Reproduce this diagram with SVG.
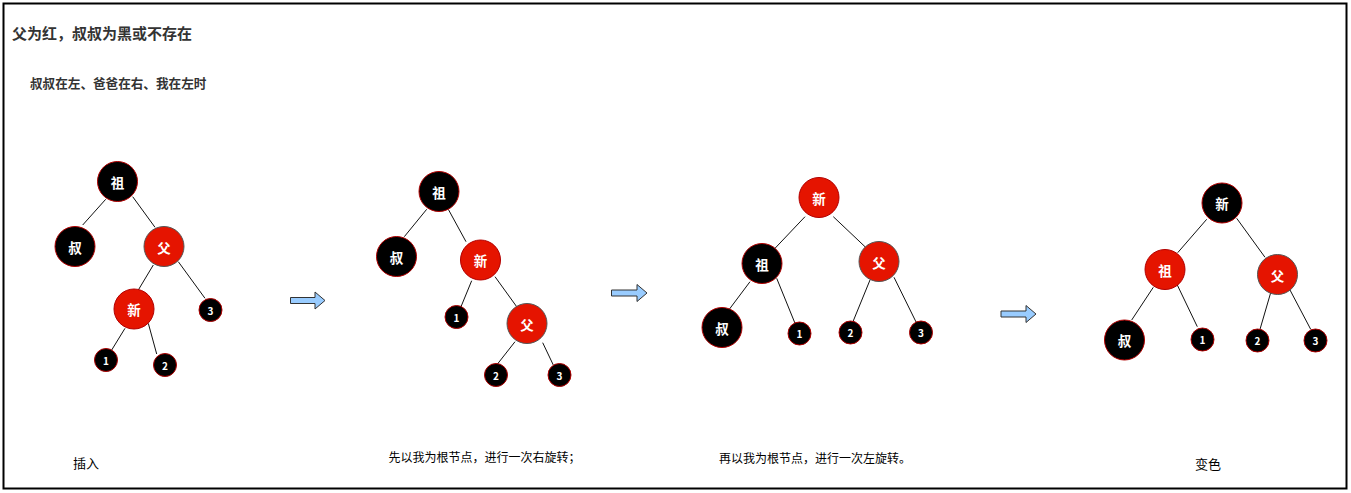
<svg xmlns="http://www.w3.org/2000/svg" width="1351" height="493" viewBox="0 0 1351 493">
<style>
.t{font-family:"Noto Sans CJK SC","Liberation Sans",sans-serif;}
.hd{font-size:15px;font-weight:bold;fill:#333;}
.sub{font-size:12.6px;font-weight:bold;fill:#333;}
.cap{font-size:12px;fill:#000;}
.blk{fill:#000;stroke:#b20000;stroke-width:1;}
.red{fill:#e51400;stroke:#b20000;stroke-width:1;}
.redg{fill:#e51400;stroke:#555;stroke-width:1;}
.nl{font-size:13.5px;font-weight:bold;fill:#fff;text-anchor:middle;dominant-baseline:central;}
.ns{font-size:10px;font-weight:bold;fill:#fff;text-anchor:middle;dominant-baseline:central;}
.e line{stroke:#111;stroke-width:1;}
.arr{fill:#99ccff;stroke:#333;stroke-width:1;}
</style>
<rect x="0" y="0" width="1351" height="493" fill="#fff"/>
<rect x="3.5" y="3.5" width="1343" height="485" fill="none" stroke="#000" stroke-width="2"/>
<text class="t hd" x="12" y="39">父为红，叔叔为黑或不存在</text>
<text class="t sub" x="30" y="88">叔叔在左、爸爸在右、我在左时</text>

<g id="connectors" class="e">
<line x1="105.7" y1="199.3" x2="82.7" y2="225"/>
<line x1="132.7" y1="196.7" x2="155" y2="227.3"/>
<line x1="153.3" y1="265" x2="138.3" y2="290"/>
<line x1="178.3" y1="261.7" x2="205" y2="298.3"/>
<line x1="125" y1="328.3" x2="111.7" y2="350"/>
<line x1="148.3" y1="323.3" x2="156.7" y2="354"/>

<line x1="426.7" y1="209.3" x2="404.3" y2="236.7"/>
<line x1="448.3" y1="209.3" x2="466" y2="241.7"/>
<line x1="471.7" y1="280.7" x2="461" y2="306.7"/>
<line x1="495" y1="276.7" x2="516.7" y2="306.7"/>
<line x1="515" y1="341.7" x2="496.7" y2="365"/>
<line x1="542.7" y1="342.7" x2="553.3" y2="365"/>

<line x1="805" y1="216.7" x2="775" y2="248.3"/>
<line x1="833.3" y1="216.7" x2="865" y2="246.7"/>
<line x1="750" y1="281.7" x2="729.3" y2="309.3"/>
<line x1="776.7" y1="278.3" x2="795" y2="323.3"/>
<line x1="870" y1="280" x2="852.3" y2="323.3"/>
<line x1="894" y1="277.3" x2="916.7" y2="323.3"/>

<line x1="1206.7" y1="219.3" x2="1177.7" y2="252.7"/>
<line x1="1236.7" y1="218.3" x2="1265" y2="257.3"/>
<line x1="1153.3" y1="287.3" x2="1131.7" y2="320"/>
<line x1="1177.3" y1="285" x2="1197.3" y2="326.7"/>
<line x1="1270.7" y1="292.7" x2="1260" y2="329.3"/>
<line x1="1290" y1="290" x2="1310.7" y2="329.3"/>
</g>

<g id="tree1">
<g id="t1-zu"><circle class="blk" cx="117.5" cy="181.5" r="20"/><text class="t nl" x="117.5" y="181.5">祖</text></g>
<g id="t1-shu"><circle class="blk" cx="75" cy="246.5" r="20"/><text class="t nl" x="75" y="246.5">叔</text></g>
<g id="t1-fu"><circle class="redg" cx="164" cy="246.5" r="20"/><text class="t nl" x="164" y="246.5">父</text></g>
<g id="t1-xin"><circle class="red" cx="134" cy="309" r="20"/><text class="t nl" x="134" y="309">新</text></g>
<g id="t1-3"><circle class="blk" cx="210.5" cy="310" r="11.5"/><text class="t ns" x="210.5" y="310">3</text></g>
<g id="t1-1"><circle class="blk" cx="106" cy="360" r="11.5"/><text class="t ns" x="106" y="360">1</text></g>
<g id="t1-2"><circle class="blk" cx="165" cy="365" r="11.5"/><text class="t ns" x="165" y="365">2</text></g>
</g>

<g id="tree2">
<g id="t2-zu"><circle class="blk" cx="439" cy="191.5" r="20"/><text class="t nl" x="439" y="191.5">祖</text></g>
<g id="t2-shu"><circle class="blk" cx="396.5" cy="256.5" r="20"/><text class="t nl" x="396.5" y="256.5">叔</text></g>
<g id="t2-xin"><circle class="red" cx="480.5" cy="260" r="20"/><text class="t nl" x="480.5" y="260">新</text></g>
<g id="t2-1"><circle class="blk" cx="456.5" cy="317" r="11.5"/><text class="t ns" x="456.5" y="317">1</text></g>
<g id="t2-fu"><circle class="redg" cx="527" cy="323.5" r="20"/><text class="t nl" x="527" y="323.5">父</text></g>
<g id="t2-2"><circle class="blk" cx="496" cy="375" r="11.5"/><text class="t ns" x="496" y="375">2</text></g>
<g id="t2-3"><circle class="blk" cx="559.5" cy="375" r="11.5"/><text class="t ns" x="559.5" y="375">3</text></g>
</g>

<g id="tree3">
<g id="t3-xin"><circle class="red" cx="819" cy="197.5" r="20"/><text class="t nl" x="819" y="197.5">新</text></g>
<g id="t3-zu"><circle class="blk" cx="762" cy="263.5" r="20"/><text class="t nl" x="762" y="263.5">祖</text></g>
<g id="t3-fu"><circle class="redg" cx="879" cy="261.5" r="20"/><text class="t nl" x="879" y="261.5">父</text></g>
<g id="t3-shu"><circle class="blk" cx="722" cy="327.5" r="20"/><text class="t nl" x="722" y="327.5">叔</text></g>
<g id="t3-1"><circle class="blk" cx="799.5" cy="333.5" r="11.5"/><text class="t ns" x="799.5" y="333.5">1</text></g>
<g id="t3-2"><circle class="blk" cx="850.5" cy="332.5" r="11.5"/><text class="t ns" x="850.5" y="332.5">2</text></g>
<g id="t3-3"><circle class="blk" cx="921" cy="332.5" r="11.5"/><text class="t ns" x="921" y="332.5">3</text></g>
</g>

<g id="tree4">
<g id="t4-xin"><circle class="blk" cx="1222" cy="203" r="20"/><text class="t nl" x="1222" y="203">新</text></g>
<g id="t4-zu"><circle class="red" cx="1165" cy="269.5" r="20"/><text class="t nl" x="1165" y="269.5">祖</text></g>
<g id="t4-fu"><circle class="redg" cx="1277.5" cy="274.5" r="20"/><text class="t nl" x="1277.5" y="274.5">父</text></g>
<g id="t4-shu"><circle class="blk" cx="1124.5" cy="340" r="20"/><text class="t nl" x="1124.5" y="340">叔</text></g>
<g id="t4-1"><circle class="blk" cx="1202.5" cy="339.5" r="11.5"/><text class="t ns" x="1202.5" y="339.5">1</text></g>
<g id="t4-2"><circle class="blk" cx="1257.5" cy="340.5" r="11.5"/><text class="t ns" x="1257.5" y="340.5">2</text></g>
<g id="t4-3"><circle class="blk" cx="1315.5" cy="340.5" r="11.5"/><text class="t ns" x="1315.5" y="340.5">3</text></g>
</g>

<g id="arrows">
<path class="arr" d="M290.5,297.5 L315,297.5 L315,292 L325,300.5 L315,309 L315,303.5 L290.5,303.5 Z"/>
<path class="arr" d="M611.5,290 L637,290 L637,284.5 L647,293 L637,301.5 L637,296 L611.5,296 Z"/>
<path class="arr" d="M1001,311 L1026,311 L1026,305.5 L1036,314 L1026,322.5 L1026,317 L1001,317 Z"/>
</g>

<text class="t cap" x="73" y="468" style="font-size:13px">插入</text>
<text class="t cap" x="388.5" y="462">先以我为根节点，进行一次右旋转；</text>
<text class="t cap" x="719" y="463">再以我为根节点，进行一次左旋转。</text>
<text class="t cap" x="1195" y="469" style="font-size:13px">变色</text>
</svg>
